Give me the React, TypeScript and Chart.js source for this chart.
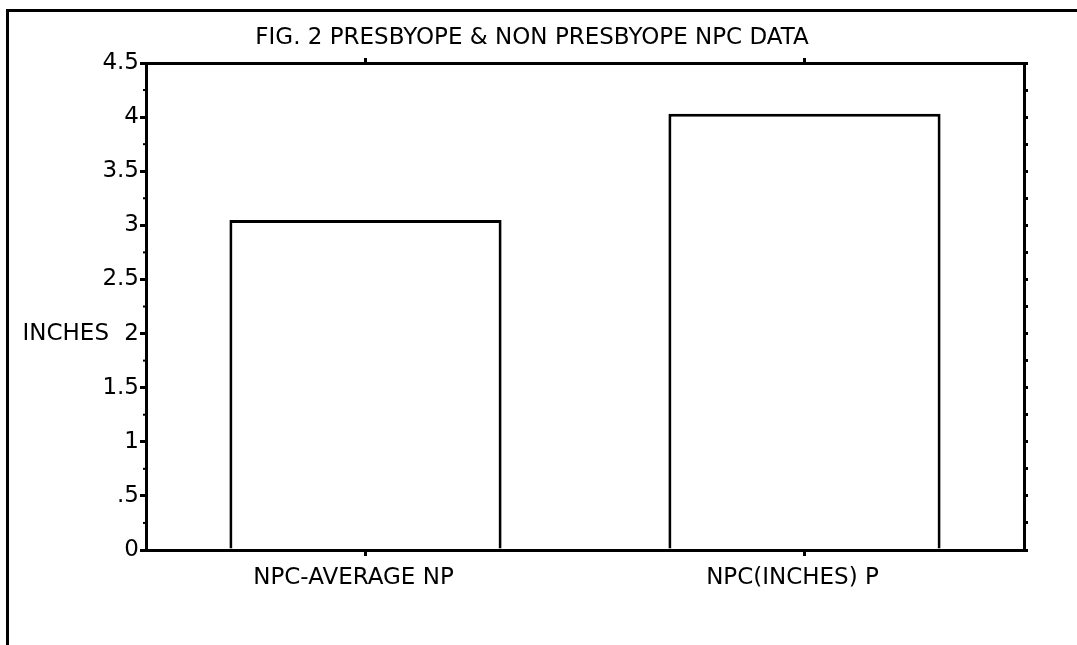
import React, { useEffect, useRef } from "react";
import { Chart, registerables } from "chart.js";

Chart.register(...registerables);

const categories = ["NPC-AVERAGE NP", "NPC(INCHES) P"];
const values = [3.05, 4.03];
const yMin = 0;
const yMax = 4.5;
const majorStep = 0.5;
const minorStep = 0.25;
const titleText = "FIG. 2 PRESBYOPE & NON PRESBYOPE NPC DATA";
const yAxisTitle = "INCHES";

const FONT = "'DejaVu Sans', sans-serif";

const fmt = (v: number) => {
  const r = Math.round(v * 100) / 100;
  if (r > 0 && r < 1) return String(r).replace(/^0/, "");
  return String(r);
};

const decorPlugin = {
  id: "decor",
  afterDraw(chart: any) {
    const ctx = chart.ctx;
    const y = chart.scales.y;
    const area = chart.chartArea;
    ctx.save();
    // frame
    ctx.strokeStyle = "#000";
    ctx.lineWidth = 3;
    ctx.beginPath();
    ctx.moveTo(7.5, 645);
    ctx.lineTo(7.5, 10.5);
    ctx.lineTo(1077, 10.5);
    ctx.stroke();
    // minor ticks on left axis
    ctx.lineWidth = 2;
    for (let v = yMin + minorStep; v < yMax; v += majorStep) {
      const py = y.getPixelForValue(v);
      ctx.beginPath();
      ctx.moveTo(area.left - 3, py);
      ctx.lineTo(area.left, py);
      ctx.stroke();
    }
    // title
    ctx.fillStyle = "#000";
    ctx.font = `23px ${FONT}`;
    ctx.textAlign = "center";
    ctx.textBaseline = "middle";
    ctx.fillText(titleText, 532, 38);
    // y axis title
    ctx.font = `23px ${FONT}`;
    ctx.textAlign = "right";
    ctx.fillText(yAxisTitle, 109, y.getPixelForValue(2));
    ctx.restore();
  },
};

export default function App() {
  const ref = useRef<HTMLCanvasElement>(null);
  useEffect(() => {
    if (!ref.current) return;
    const chart = new Chart(ref.current, {
      type: "bar",
      data: {
        labels: categories,
        datasets: [
          {
            data: values,
            backgroundColor: "#fff",
            borderColor: "#000",
            borderWidth: 3,
            borderSkipped: "bottom",
            barPercentage: 0.62,
            categoryPercentage: 1,
            xAxisID: "x",
            yAxisID: "y",
          },
        ],
      },
      options: {
        animation: false,
        responsive: false,
        maintainAspectRatio: false,
        layout: { padding: 0 },
        plugins: { legend: { display: false }, title: { display: false }, tooltip: { enabled: false } },
        scales: {
          x: {
            type: "category",
            position: "bottom",
            grid: { display: true, drawOnChartArea: false, offset: false, tickLength: 6, lineWidth: 3, color: "#000" },
            border: { display: true, width: 3, color: "#000" },
            ticks: { color: "#000", font: { family: FONT, size: 23 }, padding: 8, labelOffset: -12, maxRotation: 0 },
            afterFit: (s: any) => { s.height = 95; },
          },
          x2: {
            type: "category",
            position: "top",
            labels: categories,
            grid: { display: true, drawOnChartArea: false, offset: false, tickLength: 5, lineWidth: 3, color: "#000" },
            border: { display: true, width: 3, color: "#000" },
            ticks: { display: false },
            afterFit: (s: any) => { s.height = 63; },
          },
          y: {
            type: "linear",
            position: "left",
            min: yMin,
            max: yMax,
            grid: { display: true, drawOnChartArea: false, tickLength: 6, lineWidth: 3, color: "#000" },
            border: { display: true, width: 3, color: "#000" },
            ticks: { stepSize: majorStep, color: "#000", font: { family: FONT, size: 23 }, padding: 1, callback: (v: any) => fmt(Number(v)) },
            afterFit: (s: any) => { s.width = 146; },
          },
          y2: {
            type: "linear",
            position: "right",
            min: yMin,
            max: yMax,
            grid: { display: true, drawOnChartArea: false, tickLength: 4, lineWidth: 3, color: "#000" },
            border: { display: true, width: 3, color: "#000" },
            ticks: { stepSize: minorStep, display: false },
            afterFit: (s: any) => { s.width = 1077 - 1024; },
          },
        },
      },
      plugins: [decorPlugin],
    } as any);
    return () => chart.destroy();
  }, []);
  return (
    <canvas
      ref={ref}
      width={1077}
      height={645}
      style={{ position: "absolute", left: 0, top: 0, width: 1077, height: 645, background: "#fff" }}
    />
  );
}
